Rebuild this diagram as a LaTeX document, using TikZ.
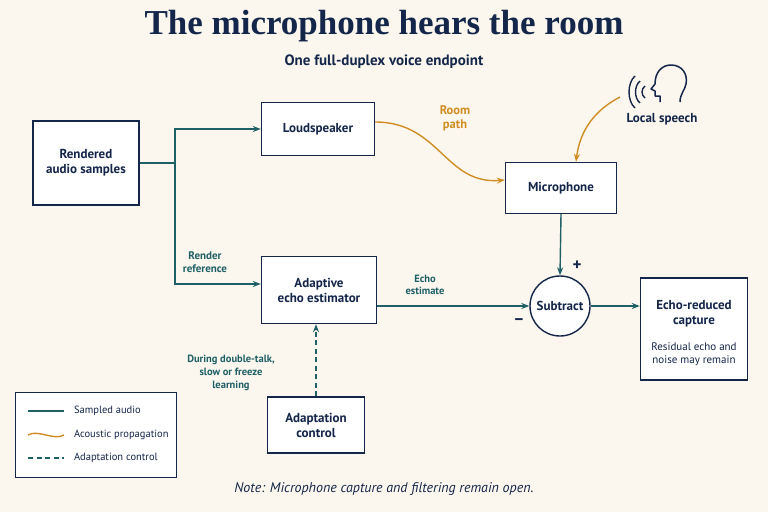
\documentclass[tikz,border=0pt]{standalone}
\usepackage{fontspec}
\setmainfont{PT Sans}
\newfontfamily\titlefont{Liberation Serif}
\usetikzlibrary{arrows.meta}
\definecolor{ink}{HTML}{14264A}
\definecolor{teal}{HTML}{1F5F66}
\definecolor{amber}{HTML}{D08E22}
\definecolor{paper}{HTML}{FBF7EE}
\begin{document}
\begin{tikzpicture}[x=1pt,y=-1pt]
      \tikzstyle{box} = [draw=ink, line width=1.4pt, fill=white, align=center, text=ink, font=\bfseries\fontsize{13}{15}\selectfont]
      \tikzstyle{wire} = [-{Stealth[length=8pt]}, teal, line width=1.4pt]
      \tikzstyle{sound} = [-{Stealth[length=8pt]}, amber, line width=1.4pt]
      \tikzstyle{note} = [align=center, font=\bfseries\fontsize{11}{13}\selectfont]
      \tikzstyle{ctrl} = [dash pattern=on 5pt off 3.5pt]

      \fill[paper] (0,0) rectangle (768,512);
      \node[text=ink, font=\titlefont\bfseries\fontsize{35}{38}\selectfont] (title) at (384,26) {The microphone hears the room};
      \node[text=ink, font=\bfseries\fontsize{15}{18}\selectfont] (sub) at (384,62) {One full-duplex voice endpoint};

      \node[box, minimum width=106pt, minimum height=84pt] (src) at (86,163) {Rendered\\audio samples};
      \node[box, minimum width=113pt, minimum height=53pt] (spk) at (318,129) {Loudspeaker};
      \node[box, minimum width=111pt, minimum height=51pt] (mic) at (561,188) {Microphone};
      \node[box, minimum width=115pt, minimum height=67pt] (est) at (319,290) {Adaptive\\echo estimator};
      \node[box, circle, minimum size=60pt, inner sep=0pt] (sub2) at (560,306) {Subtract};
      \node[box, minimum width=107pt, minimum height=102pt] (out) at (694,329) {};
      \node[text=ink, align=center, font=\bfseries\fontsize{13}{15}\selectfont] (outa) at (694,314) {Echo-reduced\\capture};
      \node[text=ink, align=center, font=\fontsize{11}{13}\selectfont] (outb) at (694,354) {Residual echo and\\noise may remain};
      \node[box, minimum width=97pt, minimum height=56pt] (ctl) at (316,425) {Adaptation\\control};

      % speaker head
      \draw[ink, line width=1.5pt, line join=round] (660,102) -- (660,96) -- (655,96) -- (655,91) -- (651,89) -- (655,84)
        .. controls (655,72) and (662,65) .. (671,65) .. controls (682,65) and (688,74) .. (686,84)
        .. controls (685,90) and (680,94) .. (680,102);
      \draw[ink, line width=1.4pt] (645,86) .. controls (641,89) and (641,95) .. (645,98);
      \draw[ink, line width=1.4pt] (640,81) .. controls (634,86) and (634,98) .. (640,103);
      \draw[ink, line width=1.4pt] (635,76) .. controls (627,83) and (627,101) .. (635,108);
      \node[text=ink, font=\bfseries\fontsize{13}{15}\selectfont] (talk) at (662,119) {Local speech};

      % connectors
      \coordinate (fork) at (175,163);
      \draw[teal, line width=1.4pt] (src.east) -- (fork);
      \draw[wire] (fork) |- (spk.west);
      \draw[wire] (fork) |- (est.west |- 0,284);
      \draw[sound] (spk.east |- 0,122) .. controls (440,122) and (445,185) .. (mic.west |- 0,180);
      \draw[sound] (620,97) .. controls (595,110) and (580,130) .. (mic.north -| 576,0);
      \draw[wire] (mic.south) -- (sub2.north);
      \draw[wire] (est.east |- 0,306) -- (sub2.west);
      \draw[wire] (sub2.east) -- (out.west |- sub2.east);
      \draw[wire, ctrl] (ctl.north) -- (est.south -| ctl.north);

      \node[note, text=teal] (rref) at (205,262) {Render\\reference};
      \node[note, text=amber, font=\bfseries\fontsize{12.5}{14}\selectfont] (room) at (455,118) {Room\\path};
      \node[note, text=teal, font=\bfseries\fontsize{10.5}{12}\selectfont] (eest) at (425,285) {Echo\\estimate};
      \node[text=ink, font=\bfseries\fontsize{17}{17}\selectfont] (plus) at (577,266) {+};
      \node[text=ink, font=\bfseries\fontsize{17}{17}\selectfont] (minus) at (519,322) {\textendash};
      \node[note, text=teal, font=\bfseries\fontsize{10.5}{13}\selectfont] (dt) at (231,373) {During double-talk,\\slow or freeze\\learning};

      % legend
      \node[draw=ink, line width=1.2pt, fill=white, minimum width=161pt, minimum height=85pt] (leg) at (96,435) {};
      \coordinate (l1) at (28,411); \coordinate (l2) at (28,435); \coordinate (l3) at (28,458);
      \draw[teal, line width=1.4pt] (l1) -- ++(36,0) node[right=6pt, text=ink, font=\fontsize{10.5}{12}\selectfont] {Sampled audio};
      \draw[amber, line width=1.4pt] (l2) .. controls ++(10,-6) and ++(-10,6) .. ++(36,0) node[right=6pt, text=ink, font=\fontsize{10.5}{12}\selectfont] {Acoustic propagation};
      \draw[teal, line width=1.4pt, ctrl] (l3) -- ++(36,0) node[right=6pt, text=ink, font=\fontsize{10.5}{12}\selectfont] {Adaptation control};

      \node[text=ink, font=\itshape\fontsize{14}{15}\selectfont] (foot) at (384,489) {Note: Microphone capture and filtering remain open.};
\end{tikzpicture}
\end{document}
